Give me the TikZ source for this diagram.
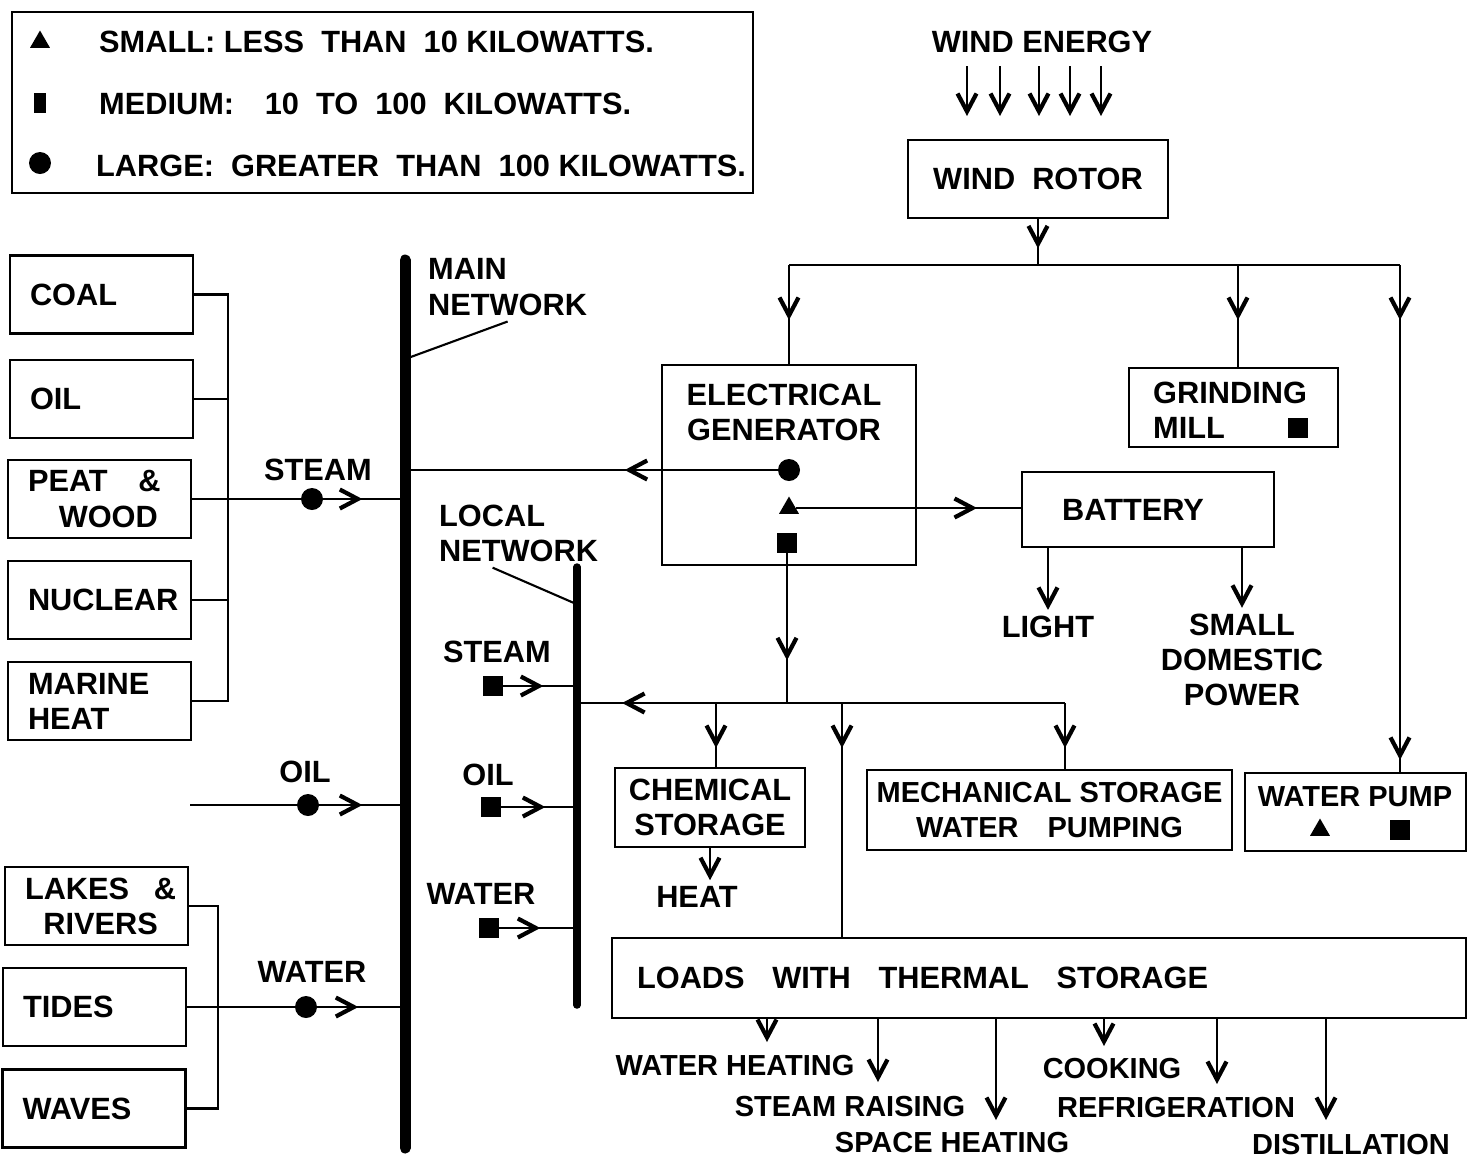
\documentclass[tikz,border=0pt]{standalone}
\usepackage{fontspec}
\setmainfont{Liberation Sans}
\usetikzlibrary{arrows.meta, positioning, shapes.geometric, decorations.markings, calc}

\tikzset{
  every node/.style={font=\bfseries\fontsize{17.5}{20}\selectfont},
  blk/.style={draw, line width=1.6pt, inner sep=0pt, align=center},
  src/.style={blk, minimum width=3.66cm, minimum height=1.56cm, text width=2.86cm, align=left},
  wire/.style={line width=1.6pt},
  big/.style={circle, fill, inner sep=0pt, minimum size=0.44cm},
  med/.style={rectangle, fill, inner sep=0pt, minimum size=0.4cm},
  sml/.style={regular polygon, regular polygon sides=3, fill, inner sep=0pt, minimum size=0.46cm},
  barb/.tip={Straight Barb[length=0.36cm, width=0.38cm, line width=2.4pt]},
  arr/.style={-barb},
  midtip/.style={postaction={decorate}, decoration={markings, mark=at position #1 with {\arrow{barb}}}},
  small/.style={font=\bfseries\fontsize{16.5}{20}\selectfont}
}

\begin{document}
\begin{tikzpicture}[x=0.02cm, y=-0.02cm]
    \useasboundingbox (0,0) rectangle (1468,1161);

    % Legend
    \node[blk, minimum width=14.82cm, minimum height=3.62cm] (legend) at (382.5,102.5) {};
    \node[sml] (lgsml) at (40,42) {};
    \node[anchor=west] (lgsmltxt) at (93,42) {SMALL:\ LESS\ \ THAN\ \ 10\ KILOWATTS.};
    \node[med, minimum width=0.26cm] (lgmed) at (40,103) {};
    \node[anchor=west] (lgmedtxt) at (93,104) {MEDIUM:\quad 10\ \ TO\ \ 100\ \ KILOWATTS.};
    \node[big] (lgbig) at (40,163) {};
    \node[anchor=west] (lgbigtxt) at (90,166) {LARGE:\ \ GREATER\ \ THAN\ \ 100\ KILOWATTS.};

    % Wind input and rotor
    \node (wind) at (1042,42) {WIND ENERGY};
    \foreach \x in {967,1000,1039,1070,1101}
        \draw[wire, arr] (\x,66) -- (\x,116);
    \node[blk, minimum width=5.2cm, minimum height=1.56cm] (rotor) at (1038,179) {WIND\ \ ROTOR};

    % Top distribution line
    \coordinate (tb0) at (1038,265);
    \coordinate (tb1) at (789,265);
    \coordinate (tb2) at (1238,265);
    \coordinate (tb3) at (1400,265);
    \draw[wire, midtip=0.58cm] (rotor.south) -- (tb0);
    \draw[wire] (tb1) -- (tb3);

    % Electrical generator
    \node[blk, minimum width=5.08cm, minimum height=4cm] (gen) at (789,465) {};
    \node[align=center] (gentxt) at (784,412) {ELECTRICAL\\GENERATOR};
    \node[big] (genL) at (789,470) {};
    \node[sml] (genS) at (789,508) {};
    \node[med] (genM) at (787,543) {};
    \draw[wire, midtip=1.1cm] (tb1) -- (gen.north);

    % Grinding mill
    \node[blk, minimum width=4.18cm, minimum height=1.58cm] (mill) at (1233.5,407.5) {};
    \node[align=left, anchor=west] (milltxt) at (1147,410) {GRINDING\\MILL};
    \node[med] (millM) at (1298,428) {};
    \draw[wire, midtip=1.1cm] (tb2) -- (tb2 |- mill.north);

    % Battery
    \node[blk, minimum width=5.04cm, minimum height=1.5cm] (batt) at (1148,509.5) {BATTERY\hspace*{0.6cm}};
    \draw[wire, midtip=3.62cm] (genS.east) -- (genS.east -| batt.west);
    \node (light) at (1048,627) {LIGHT};
    \node[align=center] (dom) at (1242,660) {SMALL\\DOMESTIC\\POWER};
    \draw[wire, arr] (batt.south -| light) -- (light);
    \draw[wire, arr] (batt.south -| dom) -- (dom);

    % Main network
    \coordinate (mnt) at (405,260);
    \coordinate (mnb) at (405,1148);
    \coordinate (mnlead) at (408,358);
    \node[align=left, anchor=west] (mainlbl) at (422,287) {MAIN\\NETWORK};
    \draw[line width=1.2pt] (mainlbl.south) -- (mnlead);
    \draw[wire, midtip=3.06cm] (genL) -- (genL -| mnt);

    % Steam sources
    \node[src] (coal) at (101.5,294.5) {COAL};
    \node[src] (oil) at (101.5,399) {OIL};
    \node[src] (peat) at (99.5,499) {\mbox{PEAT\hspace{1em}\&}\\\hspace*{1em}WOOD};
    \node[src] (nucl) at (99.5,600) {NUCLEAR};
    \node[src] (marine) at (99.5,701) {MARINE\\HEAT};
    \coordinate (sc) at (228,0);
    \draw[wire] (coal.east) -- (coal.east -| sc) -- (marine.east -| sc) -- (marine.east);
    \draw[wire] (oil.east) -- (oil.east -| sc);
    \draw[wire] (nucl.east) -- (nucl.east -| sc);
    \node[big] (stmdot) at (312,499) {};
    \node (stmlbl) at (318,470) {STEAM};
    \draw[wire] (peat.east) -- (stmdot);
    \draw[wire, midtip=0.78cm] (stmdot) -- (stmdot -| mnt);

    % Oil
    \coordinate (oilin) at (190,805);
    \node[big] (oildot) at (308,805) {};
    \node (oillbl) at (305,772) {OIL};
    \draw[wire] (oilin) -- (oildot);
    \draw[wire, midtip=0.86cm] (oildot) -- (oildot -| mnt);

    % Water sources
    \node[src] (lakes) at (96.5,906) {\mbox{LAKES\hspace{0.8em}\&}\\\hspace*{0.6em}RIVERS};
    \node[src] (tides) at (94.5,1007) {TIDES};
    \node[src] (waves) at (94,1108.5) {WAVES};
    \coordinate (wc) at (218,0);
    \draw[wire] (lakes.east) -- (lakes.east -| wc) -- (waves.east -| wc) -- (waves.east);
    \node[big] (wtrdot) at (306,1007) {};
    \node (wtrlbl) at (312,972) {WATER};
    \draw[wire] (tides.east) -- (wtrdot);
    \draw[wire, midtip=0.82cm] (wtrdot) -- (wtrdot -| mnt);

    % Local network
    \coordinate (lnt) at (577,567);
    \coordinate (lnb) at (577,1005);
    \coordinate (lnlead) at (574,603);
    \node[align=left, anchor=west] (loclbl) at (433,533) {LOCAL\\NETWORK};
    \draw[line width=1.2pt] ($(loclbl.south)+(-26,0)$) -- (lnlead);
    \node[med] (lsq1) at (493,686) {};
    \node (lstm) at (497,652) {STEAM};
    \node[med] (lsq2) at (491,807) {};
    \node (loil) at (488,775) {OIL};
    \node[med] (lsq3) at (489,928) {};
    \node (lwtr) at (481,894) {WATER};
    \draw[wire, midtip=0.8cm] (lsq1) -- (lsq1 -| lnt);
    \draw[wire, midtip=0.88cm] (lsq2) -- (lsq2 -| lnt);
    \draw[wire, midtip=0.82cm] (lsq3) -- (lsq3 -| lnt);

    % Storage line
    \coordinate (lbg) at (787,703);
    \coordinate (lb1) at (716,703);
    \coordinate (lb2) at (842,703);
    \coordinate (lb3) at (1065,703);
    \draw[wire, midtip=2.14cm] (genM) -- (lbg);
    \draw[wire, midtip=8.86cm] (lb3) -- (lb3 -| lnt);

    \node[blk, minimum width=3.8cm, minimum height=1.58cm] (chem) at (710,807.5) {CHEMICAL\\STORAGE};
    \node[blk, small, minimum width=7.3cm, minimum height=1.6cm] (mech) at (1049.5,810) {MECHANICAL STORAGE\\WATER\quad PUMPING};
    \node[blk, minimum width=4.42cm, minimum height=1.56cm] (pump) at (1355.5,812) {};
    \node[small] (pumptxt) at (1355,797) {WATER PUMP};
    \node[sml] (pumpS) at (1320,830) {};
    \node[med] (pumpM) at (1400,830) {};
    \node[blk, minimum width=17.08cm, minimum height=1.6cm, text width=16.08cm, align=left] (loads) at (1039,978) {LOADS\hspace{0.9em}WITH\hspace{0.9em}THERMAL\hspace{0.9em}STORAGE};

    \draw[wire, midtip=0.9cm] (lb1) -- (lb1 |- chem.north);
    \draw[wire, midtip=0.9cm] (lb2) -- (lb2 |- loads.north);
    \draw[wire, midtip=0.9cm] (lb3) -- (lb3 |- mech.north);
    \draw[wire, postaction={decorate}, decoration={markings,
        mark=at position 1.1cm with {\arrow{barb}},
        mark=at position 9.9cm with {\arrow{barb}}}] (tb3) -- (tb3 |- pump.north);

    \node (heat) at (697,897) {HEAT};
    \draw[wire, arr] (chem.south) -- (chem.south |- heat.north);

    % Loads with thermal storage
    \foreach \x/\y in {767/1042, 878/1082, 996/1120, 1104/1046, 1217/1084, 1326/1120}
        \draw[wire, arr] (\x,1018) -- (\x,\y);
    \node[small] (whtg) at (735,1066) {WATER HEATING};
    \node[small] (stmr) at (850,1107) {STEAM RAISING};
    \node[small] (sphtg) at (952,1143) {SPACE HEATING};
    \node[small] (cook) at (1112,1069) {COOKING};
    \node[small] (refr) at (1176,1108) {REFRIGERATION};
    \node[small] (dist) at (1351,1145) {DISTILLATION};

    % Networks
    \draw[line width=0.22cm, line cap=round] (mnt) -- (mnb);
    \draw[line width=0.15cm, line cap=round] (lnt) -- (lnb);
\end{tikzpicture}
\end{document}
